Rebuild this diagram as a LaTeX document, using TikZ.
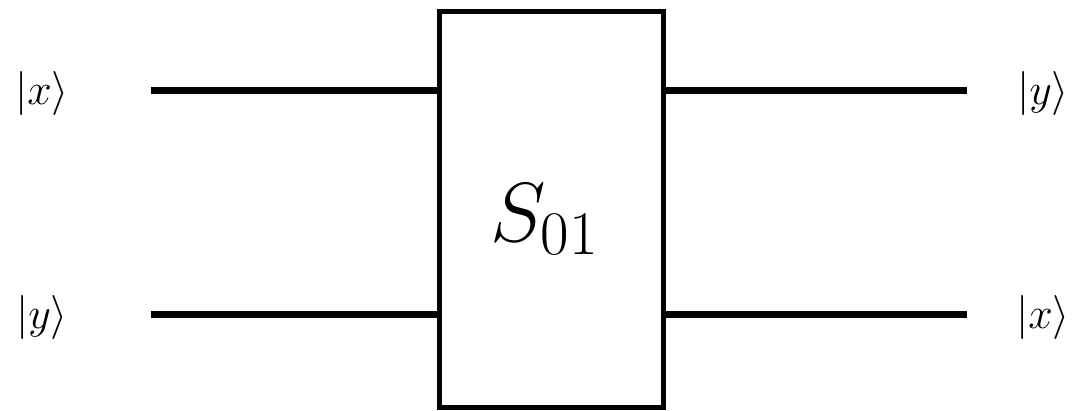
\documentclass[tikz,border=0pt]{standalone}
\usepackage{fix-cm}
\usepackage{amsmath}
\usetikzlibrary{positioning}

\begin{document}
\begin{tikzpicture}[x=1pt, y=-1pt,
    wire/.style={line width=7pt},
    gatebox/.style={draw, line width=5pt, minimum width=224pt, minimum height=396pt},
    gatelabel/.style={font=\fontsize{84}{90}\selectfont, inner sep=0pt},
    ket/.style={font=\fontsize{44}{50}\selectfont, inner sep=0pt}]
  \useasboundingbox (0,0) rectangle (1074,410);

  % Gate
  \node[gatebox] (S) at (551,209.5) {};
  \node[gatelabel] (Slab) at (544,220) {$S_{\text{\fontsize{62}{64}\selectfont 01}}$};

  % Wire end points
  \coordinate (inA)  at (151,90);
  \coordinate (inB)  at (151,314);
  \coordinate (outA) at (967,90);
  \coordinate (outB) at (967,314);

  % Labels
  \node[ket] (xin)  at (42,93)    {$|x\rangle$};
  \node[ket] (yin)  at (42,317)   {$|y\rangle$};
  \node[ket] (yout) at (1043,93)  {$|y\rangle$};
  \node[ket] (xout) at (1043,317) {$|x\rangle$};

  % Wires
  \draw[wire] (inA) -- (inA -| S.west);
  \draw[wire] (inB) -- (inB -| S.west);
  \draw[wire] (outA -| S.east) -- (outA);
  \draw[wire] (outB -| S.east) -- (outB);

\end{tikzpicture}
\end{document}
